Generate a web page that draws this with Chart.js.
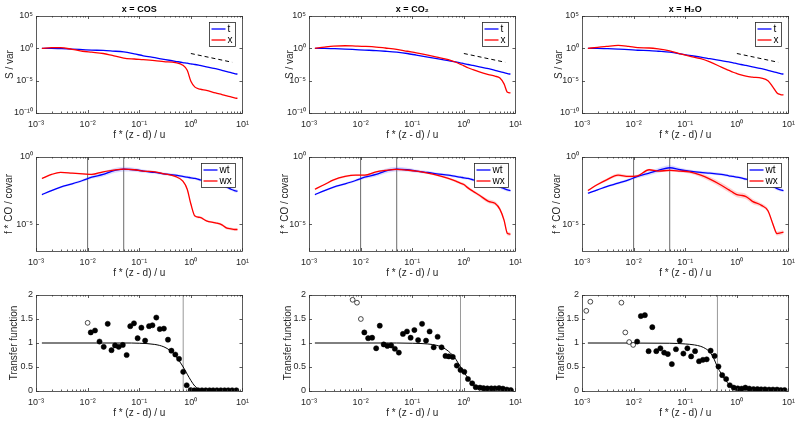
<!DOCTYPE html>
<html><head><meta charset="utf-8">
<script src="https://cdn.jsdelivr.net/npm/chart.js@4"></script>
<style>
html,body{margin:0;padding:0;background:#fff;}
body{width:800px;height:422px;position:relative;overflow:hidden;}
canvas{position:absolute;}
</style>
</head><body>
<script>
// ---------------- DATA ----------------
const panelTitles = ['x = COS', 'x = CO\u2082', 'x = H\u2082O'];
const xTickValues = [0.001, 0.01, 0.1, 1, 10];
const xTickLabels = ['10\u207B\u00B3', '10\u207B\u00B2', '10\u207B\u00B9', '10\u2070', '10\u00B9'];
const specTickValues = [1e-10, 1e-5, 1, 1e5];
const specTickLabels = ['10\u207B\u00B9\u2070', '10\u207B\u2075', '10\u2070', '10\u2075'];
const cospTickValues = [1e-5, 1];
const cospTickLabels = ['10\u207B\u2075', '10\u2070'];
const tfTickValues = [0, 0.5, 1, 1.5, 2];
const tfTickLabels = ['0', '0.5', '1', '1.5', '2'];

// frequency grid for spectra / cospectra (f*(z-d)/u)
const F = [0.0013,0.002,0.003,0.005,0.008,0.012,0.02,0.03,0.05,0.08,0.12,0.2,0.3,0.5,0.7,0.85,1.0,1.2,1.5,2,3,4,5,6,7,8];

// Row 1: normalised spectra, values given as log10(S/var)
const specT_cos = [0,0,-0.05,-0.12,-0.2,-0.27,-0.33,-0.42,-0.55,-0.85,-1.15,-1.45,-1.7,-2.0,-2.2,-2.3,-2.4,-2.5,-2.65,-2.85,-3.15,-3.4,-3.6,-3.75,-3.9,-4.0];
const specX_cos = [0,0.1,0.1,-0.15,-0.45,-0.6,-0.8,-1.1,-1.5,-1.65,-1.75,-1.9,-2.05,-2.2,-2.6,-3.4,-5.1,-6.0,-6.3,-6.5,-6.9,-7.15,-7.35,-7.5,-7.65,-7.75];
const specT_co2 = [0,0,-0.05,-0.12,-0.2,-0.27,-0.35,-0.45,-0.6,-0.8,-1.05,-1.35,-1.6,-1.9,-2.1,-2.25,-2.35,-2.5,-2.65,-2.85,-3.15,-3.4,-3.6,-3.75,-3.9,-4.0];
const specX_co2 = [0,0.2,0.35,0.4,0.35,0.3,0.2,0.05,-0.15,-0.45,-0.7,-1.05,-1.35,-1.75,-2.15,-2.45,-2.7,-3.0,-3.3,-3.65,-4.05,-4.3,-4.6,-5.5,-6.8,-6.9];
const specT_h2o = [0,0,-0.05,-0.12,-0.2,-0.3,-0.35,-0.45,-0.6,-0.85,-1.1,-1.35,-1.6,-1.9,-2.1,-2.25,-2.35,-2.5,-2.65,-2.85,-3.15,-3.4,-3.6,-3.75,-3.9,-4.0];
const specX_h2o = [0,0.15,0.3,0.45,0.3,0.1,0.05,-0.1,-0.4,-0.85,-1.2,-1.6,-2.1,-2.9,-3.4,-3.7,-3.9,-4.1,-4.3,-4.45,-4.6,-5.0,-6.0,-6.9,-7.15,-7.2];
// -5/3 reference slope (dashed)
const slopeF = [1, 6.3];
const slopeLog = [-0.8, -2.15];

// Row 2: normalised cospectra f*Co/covar, log10 values, with band half-widths (decades)
const cospWT_cos = [-2.8,-2.5,-2.25,-2.0,-1.75,-1.5,-1.3,-1.05,-0.9,-0.95,-1.05,-1.15,-1.25,-1.35,-1.45,-1.5,-1.55,-1.6,-1.7,-1.8,-1.95,-2.1,-2.25,-2.4,-2.5,-2.55];
const cospWX_cos = [-1.6,-1.3,-1.15,-1.2,-1.25,-1.3,-1.1,-1.0,-0.9,-0.95,-1.05,-1.1,-1.25,-1.45,-1.8,-2.4,-3.5,-4.4,-4.5,-4.75,-4.9,-5.05,-5.3,-5.35,-5.4,-5.4];
const cospWT_co2 = [-2.8,-2.5,-2.25,-2.0,-1.75,-1.5,-1.3,-1.05,-0.9,-0.95,-1.05,-1.15,-1.25,-1.35,-1.45,-1.5,-1.55,-1.6,-1.7,-1.8,-1.95,-2.1,-2.25,-2.35,-2.45,-2.5];
const cospWX_co2 = [-2.4,-2.05,-1.7,-1.45,-1.35,-1.35,-1.1,-1.0,-0.92,-0.98,-1.05,-1.2,-1.35,-1.6,-1.8,-1.95,-2.05,-2.3,-2.55,-2.85,-3.3,-3.45,-3.9,-4.7,-5.7,-5.75];
const cospWT_h2o = [-2.7,-2.45,-2.2,-1.95,-1.7,-1.45,-1.2,-1.0,-0.8,-0.95,-1.05,-1.15,-1.2,-1.3,-1.4,-1.45,-1.5,-1.55,-1.65,-1.75,-1.9,-2.05,-2.2,-2.35,-2.45,-2.5];
const cospWX_h2o = [-2.5,-2.05,-1.7,-1.35,-1.45,-1.4,-0.95,-1.05,-1.0,-1.05,-1.1,-1.35,-1.65,-2.1,-2.45,-2.65,-2.8,-2.85,-2.95,-3.3,-3.6,-4.0,-5.0,-5.7,-5.65,-5.6];
const bandWT = [0.06,0.07,0.08,0.09,0.1,0.12,0.15,0.18,0.18,0.15,0.12,0.1,0.1,0.1,0.1,0.1,0.1,0.1,0.1,0.1,0.1,0.12,0.12,0.12,0.12,0.12];
const bandWX_cos = [0.05,0.05,0.05,0.05,0.05,0.06,0.06,0.06,0.06,0.06,0.06,0.06,0.06,0.07,0.08,0.08,0.08,0.08,0.08,0.08,0.08,0.1,0.1,0.1,0.1,0.1];
const bandWX_co2 = [0.05,0.06,0.07,0.07,0.06,0.06,0.06,0.06,0.06,0.06,0.06,0.07,0.08,0.08,0.1,0.1,0.12,0.12,0.12,0.12,0.15,0.15,0.15,0.15,0.15,0.15];
const bandWX_h2o = [0.06,0.08,0.1,0.12,0.1,0.08,0.08,0.08,0.08,0.1,0.12,0.15,0.18,0.2,0.2,0.2,0.2,0.2,0.2,0.2,0.15,0.15,0.15,0.15,0.15,0.15];
const cospMarkF = [0.01, 0.05];

// Row 3: transfer function
const tfOpenF_cos = [0.01];
const tfOpenT_cos = [1.42];
const tfF_cos = [0.0115,0.0139,0.017,0.0205,0.0245,0.029,0.034,0.040,0.048,0.057,0.067,0.079,0.093,0.11,0.13,0.155,0.18,0.214,0.25,0.30,0.36,0.42,0.50,0.59,0.71,0.83,0.99,1.17,1.38,1.64,1.94,2.3,2.7,3.2,3.8,4.5,5.3,6.3,7.6];
const tfT_cos = [1.22,1.26,1.03,0.92,1.40,0.85,0.95,0.92,0.96,0.75,1.35,1.41,1.10,1.32,1.05,1.35,1.37,1.53,1.29,1.30,1.07,0.84,0.76,0.67,0.40,0.12,0.02,0.015,0.015,0.015,0.015,0.015,0.015,0.015,0.015,0.015,0.015,0.015,0.015];
const tfOpenF_co2 = [0.0070,0.0085,0.0101];
const tfOpenT_co2 = [1.9,1.84,1.5];
const tfF_co2 = [0.0118,0.014,0.0167,0.020,0.0235,0.028,0.033,0.039,0.046,0.055,0.066,0.079,0.093,0.11,0.13,0.155,0.185,0.217,0.26,0.31,0.37,0.44,0.51,0.61,0.73,0.86,1.02,1.2,1.45,1.7,2.05,2.4,2.85,3.4,4.0,4.8,5.7,6.8,8.1];
const tfT_co2 = [1.22,1.10,1.11,0.89,1.36,0.97,0.94,0.95,0.88,0.80,1.19,1.24,1.11,1.27,1.06,1.40,1.05,1.24,0.91,1.13,0.91,0.73,0.72,0.71,0.53,0.44,0.40,0.25,0.16,0.08,0.07,0.06,0.055,0.055,0.055,0.06,0.05,0.03,0.02];
const tfOpenF_h2o = [0.00121,0.00145,0.0058,0.0069,0.0082,0.0098];
const tfOpenT_h2o = [1.67,1.86,1.84,1.22,1.02,0.96];
const tfF_h2o = [0.0117,0.0138,0.0165,0.0195,0.023,0.0275,0.033,0.039,0.046,0.055,0.066,0.078,0.092,0.11,0.13,0.155,0.185,0.22,0.26,0.31,0.37,0.44,0.52,0.62,0.73,0.87,1.04,1.24,1.46,1.74,2.1,2.5,2.95,3.5,4.2,5.0,6.0,7.1,8.4];
const tfT_h2o = [1.03,1.56,1.58,0.83,1.33,0.83,0.89,0.80,0.77,0.56,0.87,1.05,0.78,0.89,0.72,0.83,0.62,0.65,0.66,0.84,0.73,0.51,0.33,0.25,0.12,0.07,0.055,0.05,0.07,0.05,0.04,0.04,0.035,0.035,0.03,0.03,0.03,0.02,0.02];
const tfCurveF_cos = [0.0013,0.05,0.1,0.2,0.3,0.4,0.5,0.6,0.71,0.85,1.0,1.2,1.5,2,8];
const tfCurveT_cos = [1,1,0.995,0.97,0.92,0.84,0.74,0.62,0.5,0.35,0.22,0.1,0.03,0,0];
const tfCurveF_co2 = [0.0013,0.05,0.1,0.2,0.3,0.4,0.5,0.6,0.7,0.86,1.0,1.2,1.5,2,3,8];
const tfCurveT_co2 = [1,1,0.995,0.98,0.95,0.9,0.83,0.75,0.66,0.5,0.39,0.27,0.13,0.04,0,0];
const tfCurveF_h2o = [0.0013,0.05,0.1,0.15,0.2,0.25,0.3,0.36,0.42,0.5,0.6,0.7,0.8,1.0,1.3,8];
const tfCurveT_h2o = [1,0.995,0.98,0.96,0.93,0.88,0.81,0.67,0.5,0.36,0.23,0.14,0.08,0.02,0,0];
const tfCut = [0.71, 0.86, 0.42];

// ---------------- LAYOUT ----------------
const COL_L = [36, 309, 582];
const PW = 209;
const ROW_T = [16, 157, 295];
const ROW_H = [97, 94, 96];
const YLAB_X = [[10, 290, 559], [9, 285, 557], [14, 288, 561]];
const TEXT = '#262626';
const FONT = "'Liberation Sans', Arial, Helvetica, sans-serif";
const BLUE = 'rgb(0,0,255)', RED = 'rgb(255,0,0)';

Chart.defaults.font.family = FONT;
Chart.defaults.font.size = 10;
Chart.defaults.color = TEXT;

const pts = (xs, ys) => xs.map((x, i) => ({x: x, y: ys[i]}));
const pow10 = a => a.map(v => Math.pow(10, v));
const shift = (a, b, s) => a.map((v, i) => Math.pow(10, v + s * b[i]));

const framePlugin = {
  id: 'frame',
  afterDatasetsDraw(chart, args, opts) {
    const ctx = chart.ctx, a = chart.chartArea, xs = chart.scales.x, ys = chart.scales.y;
    ctx.save();
    ctx.strokeStyle = '#333';
    ctx.lineWidth = 0.8;
    ctx.beginPath();
    xs.ticks.forEach(t => {
      const p = Math.round(xs.getPixelForValue(t.value)) + 0.5;
      ctx.moveTo(p, a.bottom); ctx.lineTo(p, a.bottom - 3);
      ctx.moveTo(p, a.top); ctx.lineTo(p, a.top + 3);
    });
    for (let i = 0; i < xTickValues.length - 1; i++) {
      for (let m = 2; m <= 9; m++) {
        const p = Math.round(xs.getPixelForValue(xTickValues[i] * m)) + 0.5;
        ctx.moveTo(p, a.bottom); ctx.lineTo(p, a.bottom - 1.5);
        ctx.moveTo(p, a.top); ctx.lineTo(p, a.top + 1.5);
      }
    }
    ys.ticks.forEach(t => {
      const p = Math.round(ys.getPixelForValue(t.value)) + 0.5;
      ctx.moveTo(a.left, p); ctx.lineTo(a.left + 3, p);
      ctx.moveTo(a.right, p); ctx.lineTo(a.right - 3, p);
    });
    ctx.stroke();
    ctx.strokeRect(Math.round(a.left) + 0.5, Math.round(a.top) + 0.5, Math.round(a.right - a.left), Math.round(a.bottom - a.top));
    if (opts.title) {
      ctx.fillStyle = '#000';
      ctx.font = 'bold 9px ' + FONT;
      ctx.textAlign = 'center';
      ctx.textBaseline = 'middle';
      ctx.fillText(opts.title, (a.left + a.right) / 2, a.top - 6);
    }
    if (opts.legend) {
      const bw = opts.legendW, bh = 24;
      const bx = Math.round(a.right - 7 - bw) + 0.5, by = Math.round(a.top + 6) + 0.5;
      ctx.fillStyle = '#fff';
      ctx.fillRect(bx, by, bw, bh);
      ctx.strokeStyle = '#262626';
      ctx.lineWidth = 0.8;
      ctx.strokeRect(bx, by, bw, bh);
      ctx.font = '10px ' + FONT;
      ctx.textAlign = 'left';
      ctx.textBaseline = 'middle';
      opts.legend.forEach((it, i) => {
        const yy = by + 6.5 + i * 11;
        ctx.strokeStyle = it.color;
        ctx.lineWidth = 1.3;
        ctx.beginPath();
        ctx.moveTo(bx + 2, yy); ctx.lineTo(bx + 16, yy);
        ctx.stroke();
        ctx.fillStyle = '#000';
        ctx.fillText(it.label, bx + 18, yy);
      });
    }
    ctx.restore();
  }
};

function panel(r, c, datasets, yCfg, frameOpts) {
  const L = COL_L[c], T = ROW_T[r], H = ROW_H[r];
  const TOP_PAD = 16, RIGHT_PAD = 10, XH = 28;
  const left = Math.round(YLAB_X[r][c] - 6);
  const w = L + PW + RIGHT_PAD - left;
  const h = TOP_PAD + H + XH;
  const cv = document.createElement('canvas');
  cv.width = w; cv.height = h;
  cv.style.left = left + 'px'; cv.style.top = (T - TOP_PAD) + 'px';
  cv.style.width = w + 'px'; cv.style.height = h + 'px';
  document.body.appendChild(cv);
  const yw = L - left;
  const yScale = Object.assign({
    position: 'left',
    grid: {display: false, drawTicks: false},
    border: {display: false},
    afterBuildTicks: s => { s.ticks = yCfg.tickValues.map(v => ({value: v})); },
    afterFit: s => { s.width = yw; },
    ticks: {autoSkip: false, padding: 3, color: TEXT, font: {size: 9}, callback: (v, i) => yCfg.tickLabels[i]},
    title: {display: true, text: yCfg.title, padding: 0, color: TEXT}
  }, yCfg.scale);
  new Chart(cv, {
    type: 'line',
    data: {datasets: datasets},
    options: {
      responsive: false, animation: false, devicePixelRatio: 1,
      layout: {padding: {top: TOP_PAD, right: RIGHT_PAD, left: 0, bottom: 0}},
      plugins: {legend: {display: false}, tooltip: {enabled: false}, frame: frameOpts},
      elements: {point: {radius: 0}, line: {borderWidth: 1.3}},
      scales: {
        x: {
          type: 'logarithmic', min: 0.001, max: 10, position: 'bottom',
          grid: {display: false, drawTicks: false},
          border: {display: false},
          afterBuildTicks: s => { s.ticks = xTickValues.map(v => ({value: v})); },
          afterFit: s => { s.height = XH; },
          ticks: {autoSkip: false, maxRotation: 0, minRotation: 0, padding: 6, color: TEXT, font: {size: 9}, callback: (v, i) => xTickLabels[i]},
          title: {display: true, text: 'f * (z - d) / u', padding: 0, color: TEXT}
        },
        y: yScale
      }
    },
    plugins: [framePlugin]
  });
}

const lineDs = (xs, ys, color, extra) => Object.assign({data: pts(xs, ys), borderColor: color, backgroundColor: color, borderWidth: 1.3, pointRadius: 0, cubicInterpolationMode: 'monotone', fill: false}, extra || {});

// Row 1
const specSets = [[specT_cos, specX_cos], [specT_co2, specX_co2], [specT_h2o, specX_h2o]];
specSets.forEach((s, c) => {
  panel(0, c, [
    lineDs(F, pow10(s[1]), RED),
    lineDs(F, pow10(s[0]), BLUE),
    lineDs(slopeF, pow10(slopeLog), '#000', {borderDash: [4, 3], borderWidth: 1, cubicInterpolationMode: 'default', tension: 0})
  ], {scale: {type: 'logarithmic', min: 1e-10, max: 1e5}, tickValues: specTickValues, tickLabels: specTickLabels, title: 'S / var'},
  {title: panelTitles[c], legend: [{label: 't', color: BLUE}, {label: 'x', color: RED}], legendW: 26});
});

// Row 2
const cospSets = [[cospWT_cos, cospWX_cos, bandWX_cos], [cospWT_co2, cospWX_co2, bandWX_co2], [cospWT_h2o, cospWX_h2o, bandWX_h2o]];
cospSets.forEach((s, c) => {
  panel(1, c, [
    lineDs(F, pow10(s[1]), RED),
    lineDs(F, pow10(s[0]), BLUE),
    lineDs(F, shift(s[1], s[2], 1), 'rgba(0,0,0,0)', {fill: '+1', backgroundColor: 'rgba(255,60,60,0.22)', borderWidth: 0}),
    lineDs(F, shift(s[1], s[2], -1), 'rgba(0,0,0,0)', {borderWidth: 0}),
    lineDs(F, shift(s[0], bandWT, 1), 'rgba(0,0,0,0)', {fill: '+1', backgroundColor: 'rgba(80,80,255,0.2)', borderWidth: 0}),
    lineDs(F, shift(s[0], bandWT, -1), 'rgba(0,0,0,0)', {borderWidth: 0}),
    lineDs([cospMarkF[0], cospMarkF[0]], [1e-7, 1], '#444', {borderWidth: 0.8, cubicInterpolationMode: 'default'}),
    lineDs([cospMarkF[1], cospMarkF[1]], [1e-7, 1], '#444', {borderWidth: 0.8, cubicInterpolationMode: 'default'})
  ], {scale: {type: 'logarithmic', min: 1e-7, max: 1}, tickValues: cospTickValues, tickLabels: cospTickLabels, title: 'f * CO / covar'},
  {legend: [{label: 'wt', color: BLUE}, {label: 'wx', color: RED}], legendW: 34});
});

// Row 3
const tfSets = [
  [tfF_cos, tfT_cos, tfOpenF_cos, tfOpenT_cos, tfCurveF_cos, tfCurveT_cos],
  [tfF_co2, tfT_co2, tfOpenF_co2, tfOpenT_co2, tfCurveF_co2, tfCurveT_co2],
  [tfF_h2o, tfT_h2o, tfOpenF_h2o, tfOpenT_h2o, tfCurveF_h2o, tfCurveT_h2o]
];
tfSets.forEach((s, c) => {
  panel(2, c, [
    {data: pts(s[0], s[1]), showLine: false, pointRadius: 2.6, pointBackgroundColor: '#000', pointBorderColor: '#000', pointBorderWidth: 0.5, borderColor: '#000'},
    {data: pts(s[2], s[3]), showLine: false, pointRadius: 2.4, pointBackgroundColor: '#fff', pointBorderColor: '#000', pointBorderWidth: 0.7, borderColor: '#000'},
    lineDs(s[4], s[5], '#000', {borderWidth: 1}),
    lineDs([tfCut[c], tfCut[c]], [0, 2], '#999', {borderWidth: 1, cubicInterpolationMode: 'default'})
  ], {scale: {type: 'linear', min: 0, max: 2}, tickValues: tfTickValues, tickLabels: tfTickLabels, title: 'Transfer function'},
  {});
});
</script>
</body></html>
